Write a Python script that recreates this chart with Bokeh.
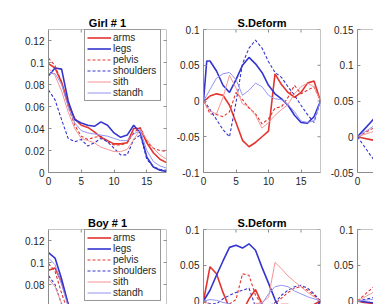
import math

from bokeh.plotting import figure
from bokeh.layouts import column, row
from bokeh.models import (Range1d, LinearAxis, FixedTicker, Legend, LegendItem,
                          CustomJSTickFormatter, Span)
from bokeh.embed import file_html
from bokeh.resources import INLINE

# ---------------------------------------------------------------- data
parts = ["arms", "legs", "pelvis", "shoulders", "sith", "standh"]

# Girl # 1 – energy per body part over time
girl_t = [0, 1, 2, 3, 4, 5, 6, 7, 8, 9, 10, 11, 12, 13, 14, 15, 16, 17, 18]
girl_arms = [0.099, 0.095, 0.082, 0.062, 0.049, 0.043, 0.041, 0.037, 0.032, 0.029,
             0.026, 0.026, 0.027, 0.040, 0.040, 0.027, 0.018, 0.012, 0.009]
girl_legs = [0.088, 0.095, 0.094, 0.065, 0.048, 0.045, 0.043, 0.042, 0.046, 0.043,
             0.036, 0.032, 0.034, 0.043, 0.036, 0.014, 0.005, 0.002, 0.001]
girl_pelvis = [0.104, 0.097, 0.082, 0.060, 0.043, 0.033, 0.030, 0.032, 0.033, 0.028,
               0.025, 0.025, 0.027, 0.036, 0.041, 0.028, 0.022, 0.020, 0.019]
girl_shoulders = [0.075, 0.066, 0.048, 0.031, 0.028, 0.030, 0.024, 0.027, 0.031, 0.028,
                  0.022, 0.016, 0.016, 0.030, 0.034, 0.012, 0.005, 0.003, 0.002]
girl_sith = [0.095, 0.088, 0.074, 0.055, 0.040, 0.031, 0.029, 0.027, 0.023, 0.021,
             0.019, 0.019, 0.021, 0.030, 0.039, 0.030, 0.022, 0.016, 0.012]
girl_standh = [0.090, 0.090, 0.080, 0.060, 0.045, 0.038, 0.036, 0.035, 0.034, 0.033,
               0.031, 0.029, 0.029, 0.035, 0.038, 0.020, 0.010, 0.006, 0.004]

# Girl # 1 – S.Deform
gsd_t = [0, 0.5, 1, 2, 3, 4, 5, 6, 7, 8, 9, 10, 11, 12, 13, 14, 15, 16, 17, 18]
gsd_arms = [0, 0.003, 0.007, 0.010, 0.008, -0.006, -0.030, -0.055, -0.064, -0.058,
            -0.050, -0.042, 0.038, 0.023, 0.012, 0.005, 0.012, 0.025, 0.028, 0]
gsd_legs = [0, 0.056, 0.056, 0.042, 0.022, 0.012, 0.030, 0.050, 0.061, 0.052,
            0.040, 0.022, 0.010, 0.003, -0.006, -0.020, -0.030, -0.031, -0.022, 0]
gsd_pelvis = [0, -0.008, -0.018, -0.019, -0.022, -0.015, 0.012, 0.002, -0.010, -0.018,
              -0.032, -0.025, -0.010, -0.008, 0.005, 0.022, 0.010, 0.015, 0.020, 0]
gsd_shoulders = [0, -0.005, -0.012, -0.026, -0.040, -0.050, -0.002, 0.052, 0.074, 0.085,
                 0.074, 0.055, 0.040, 0.033, 0.020, 0.008, -0.006, -0.019, -0.030, 0]
gsd_sith = [0, -0.008, -0.014, -0.018, 0.005, 0.036, 0.018, -0.004, -0.008, -0.020,
            -0.038, -0.030, -0.020, -0.012, -0.005, 0.010, 0.020, 0.025, 0.020, 0]
gsd_standh = [0, 0.008, 0.016, 0.032, 0.038, 0.040, 0.030, 0.008, 0.015, 0.025,
              0.020, 0.008, 0.003, 0.002, -0.005, -0.015, -0.028, -0.030, -0.028, 0]

# Girl # 1 – third measure (start of series)
g3_t = [0, 1, 2, 3]
g3_arms = [0, -0.002, -0.004, -0.006]
g3_legs = [0, 0.010, 0.020, 0.030]
g3_pelvis = [0, 0.005, 0.010, 0.014]
g3_shoulders = [0, -0.013, -0.026, -0.038]
g3_sith = [0, 0.003, 0.006, 0.009]
g3_standh = [0, 0.006, 0.012, 0.018]

# Boy # 1 – energy per body part (start of series)
boy_t = [0, 1, 2, 3, 4, 5]
boy_arms = [0.093, 0.095, 0.082, 0.062, 0.048, 0.040]
boy_legs = [0.109, 0.104, 0.085, 0.062, 0.045, 0.038]
boy_pelvis = [0.099, 0.092, 0.072, 0.055, 0.045, 0.038]
boy_shoulders = [0.088, 0.080, 0.062, 0.048, 0.040, 0.035]
boy_sith = [0.085, 0.078, 0.063, 0.050, 0.042, 0.036]
boy_standh = [0.104, 0.098, 0.080, 0.060, 0.046, 0.040]

# Boy # 1 – S.Deform
bsd_t = [0, 1, 2, 3, 4, 5, 6, 7, 8, 9, 10, 11, 12, 13, 14, 15, 16, 17, 18]
bsd_arms = [0, 0.048, 0.038, 0.012, -0.010, -0.020, -0.015, 0.003, 0.016, -0.004,
            -0.015, -0.010, -0.005, -0.005, -0.010, -0.010, -0.008, -0.005, 0]
bsd_legs = [0, 0.015, 0.036, 0.056, 0.075, 0.078, 0.074, 0.080, 0.071, 0.047,
            0.025, 0.002, -0.015, -0.025, -0.030, -0.030, -0.025, -0.015, 0]
bsd_pelvis = [0, -0.010, -0.012, -0.008, -0.004, 0.002, 0.038, 0.036, 0.008, -0.005,
              -0.008, -0.004, 0.004, 0.012, 0.018, 0.020, 0.015, 0.008, 0]
bsd_shoulders = [0, -0.004, -0.004, 0.003, 0.008, 0.012, 0.015, 0.018, -0.008, -0.010,
                 -0.008, -0.002, 0.008, 0.015, 0.020, 0.022, 0.018, 0.010, 0]
bsd_sith = [0, -0.005, -0.008, -0.010, -0.012, -0.010, -0.008, -0.006, -0.004, -0.002,
            0.005, 0.054, 0.045, 0.035, 0.027, 0.020, 0.012, 0.006, 0]
bsd_standh = [0, 0.002, 0.001, -0.002, -0.004, -0.006, -0.006, -0.005, -0.005, -0.004,
              0.010, 0.020, 0.022, 0.020, 0.014, 0.010, 0.006, 0.003, 0]

# Boy # 1 – third measure (start of series)
b3_t = [0, 1, 2, 3]
b3_arms = [0, -0.002, -0.003, -0.004]
b3_legs = [0, -0.001, -0.002, -0.003]
b3_pelvis = [0, 0.008, 0.016, 0.024]
b3_shoulders = [0, 0.002, 0.004, 0.006]
b3_sith = [0, 0.005, 0.010, 0.015]
b3_standh = [0, 0.001, 0.002, 0.003]

x_ticks = [0, 5, 10, 15]
energy_ticks = [0, 0.02, 0.04, 0.06, 0.08, 0.1, 0.12]
deform_ticks = [-0.1, -0.05, 0, 0.05, 0.1]
third_ticks = [-0.05, 0, 0.05, 0.1, 0.15]

# ---------------------------------------------------------------- styling
FONT = "Liberation Sans"
AXIS_GRAY = "#8c8c8c"
LABEL_COLOR = "#262626"
RED = "#e3342f"
BLUE = "#3434cf"
LIGHT_RED = "#f39494"
LIGHT_BLUE = "#9494f2"

styles = {
    "arms": dict(line_color=RED, line_width=1.6),
    "legs": dict(line_color=BLUE, line_width=1.6),
    "pelvis": dict(line_color=RED, line_width=1.1, line_dash="3 2"),
    "shoulders": dict(line_color=BLUE, line_width=1.1, line_dash="3 2"),
    "sith": dict(line_color=LIGHT_RED, line_width=1.0),
    "standh": dict(line_color=LIGHT_BLUE, line_width=1.0),
}

fmt = CustomJSTickFormatter(code="return String(tick);")


def add_axis(p, side, ticks):
    ax = LinearAxis(
        ticker=FixedTicker(ticks=ticks, minor_ticks=[]),
        formatter=fmt,
        axis_line_color=AXIS_GRAY, axis_line_width=1,
        major_tick_line_color=AXIS_GRAY, major_tick_in=3, major_tick_out=0,
        minor_tick_line_color=None,
        major_label_text_font=FONT, major_label_text_font_size="10px",
        major_label_text_color=LABEL_COLOR, major_label_standoff=4,
    )
    p.add_layout(ax, side)


def panel(title, width, height, left, right, top, bottom, xr, yr, yticks,
          show_below=True, show_right=True):
    p = figure(width=width, height=height, output_backend="svg",
               toolbar_location=None, x_range=Range1d(*xr), y_range=Range1d(*yr),
               x_axis_type=None, y_axis_type=None,
               min_border_left=left, min_border_right=right,
               min_border_top=top, min_border_bottom=bottom,
               background_fill_color="white", border_fill_color="white")
    p.outline_line_color = None
    add_axis(p, "left", yticks)
    if show_below:
        add_axis(p, "below", x_ticks)

    # box edge along the top, with inward ticks
    p.add_layout(Span(location=yr[1], dimension="width", line_color=AXIS_GRAY, line_width=1))
    p.scatter(x_ticks, [yr[1]] * len(x_ticks), marker="dash", angle=math.pi / 2,
              size=6, line_color=AXIS_GRAY, line_width=1)
    if show_right:
        p.add_layout(Span(location=xr[1], dimension="height", line_color=AXIS_GRAY, line_width=1))
        p.scatter([xr[1]] * len(yticks), yticks, marker="dash", size=6,
                  line_color=AXIS_GRAY, line_width=1)

    if title:
        p.title.text = title
        p.title.align = "center"
        p.title.text_font = FONT
        p.title.text_font_style = "bold"
        p.title.text_font_size = "11px"
        p.title.text_color = "#000000"
        p.title.standoff = 2
    return p


def draw(p, t, series):
    return [p.line(t, ys, **styles[name]) for name, ys in zip(parts, series)]


def add_legend(p, renderers, y_offset):
    items = [LegendItem(label=name, renderers=[r]) for name, r in zip(parts, renderers)]
    lg = Legend(items=items, location=(36, y_offset),
                border_line_color="#333333", border_line_width=1,
                background_fill_color="white", background_fill_alpha=1.0,
                label_text_font=FONT, label_text_font_size="10px",
                label_text_color=LABEL_COLOR,
                glyph_width=24, glyph_height=9, label_height=9, label_width=45,
                label_standoff=2, padding=2, spacing=-1, margin=0)
    p.add_layout(lg, "center")


# ---------------------------------------------------------------- top row
g1 = panel("Girl # 1", 170, 200, 48, 4, 29, 28, (0, 18), (0, 0.13), energy_ticks)
r = draw(g1, girl_t, [girl_arms, girl_legs, girl_pelvis, girl_shoulders, girl_sith, girl_standh])
add_legend(g1, r, 71)

g2 = panel("S.Deform", 154, 200, 33, 4, 29, 28, (0, 18), (-0.1, 0.1), deform_ticks)
draw(g2, gsd_t, [gsd_arms, gsd_legs, gsd_pelvis, gsd_shoulders, gsd_sith, gsd_standh])

g3 = panel(None, 49, 200, 33, 0, 29, 28, (0, 16 / 6.5), (-0.05, 0.15), third_ticks,
           show_right=False)
draw(g3, g3_t, [g3_arms, g3_legs, g3_pelvis, g3_shoulders, g3_sith, g3_standh])

# ---------------------------------------------------------------- bottom row
b1 = panel("Boy # 1", 170, 104, 48, 4, 29, 0, (0, 18), (0.13 - 75 / 1100, 0.13),
           energy_ticks, show_below=False)
r = draw(b1, boy_t, [boy_arms, boy_legs, boy_pelvis, boy_shoulders, boy_sith, boy_standh])
add_legend(b1, r, 3)

b2 = panel("S.Deform", 154, 104, 33, 4, 29, 0, (0, 18), (0.1 - 75 / 715, 0.1),
           deform_ticks, show_below=False)
draw(b2, bsd_t, [bsd_arms, bsd_legs, bsd_pelvis, bsd_shoulders, bsd_sith, bsd_standh])

b3 = panel(None, 49, 104, 33, 0, 29, 0, (0, 16 / 6.5), (0.1 - 75 / 715, 0.1),
           deform_ticks, show_below=False, show_right=False)
draw(b3, b3_t, [b3_arms, b3_legs, b3_pelvis, b3_shoulders, b3_sith, b3_standh])

layout = column(row(g1, g2, g3, spacing=0), row(b1, b2, b3, spacing=0), spacing=0)

open("out.html", "w").write(file_html(layout, INLINE))
